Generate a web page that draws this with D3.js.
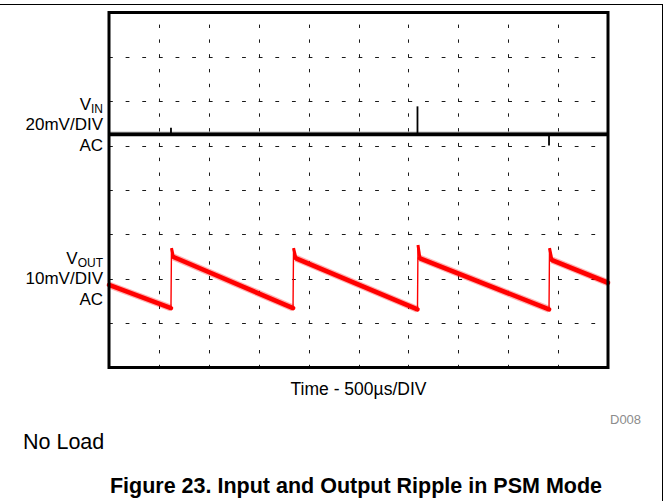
<!DOCTYPE html>
<html>
<head>
<meta charset="utf-8">
<script src="https://cdn.jsdelivr.net/npm/d3@7/dist/d3.min.js"></script>
<style>
  html, body { margin: 0; padding: 0; background: #fff; }
  svg { display: block; font-family: "Liberation Sans", Arial, sans-serif; }
</style>
</head>
<body>
<svg id="chart" width="669" height="501"></svg>
<script>
// Time base: 10 divisions of 500 µs
const timeDomain = [0, 5000];
const timeGrid = d3.range(500, 5000, 500);
// Vertical: 8 divisions, expressed in divisions about screen centre
const divDomain = [-4, 4];
const divGrid = d3.range(-3, 4, 1);

// Input channel (20 mV/div, AC coupled) — flat with switching spikes
const vinScale = 20;          // mV per division
const vinOffset = 1.255;      // channel reference, divisions
const vinT = [0, 5000];
const vinMv = [0, 0];
const vinSpikeT = [621, 3091, 4409];
const vinSpikeMv = [3.0, 12.6, -5.0];

// Output channel (10 mV/div, AC coupled) — PSM sawtooth ripple
const voutScale = 10;         // mV per division
const voutOffset = -2;        // channel reference, divisions
const voutT  = [0, 621, 626, 646, 1844, 1849, 1874, 3091, 3096, 3116, 4409, 4414, 4439, 5000];
const voutMv = [-1.4, -6.6, 6.9, 4.9, -6.6, 6.9, 4.6, -6.9, 7.6, 4.6, -6.9, 6.9, 4.2, -0.9];

(function draw() {
  const svg = d3.select("#chart");
  const pLeft = 109, pRight = 608, pTop = 12.5, pBottom = 367.5;

  const x = d3.scaleLinear().domain(timeDomain).range([pLeft, pRight]);
  const y = d3.scaleLinear().domain(divDomain).range([pBottom, pTop]);

  // Page border
  svg.append("rect")
    .attr("x", -2).attr("y", 4.5).attr("width", 664.5).attr("height", 520)
    .attr("fill", "none").attr("stroke", "#000").attr("stroke-width", 1);

  // Graticule
  const hDiv = (pRight - pLeft) / 10, vDiv = (pBottom - pTop) / 8;
  const grid = svg.append("g").attr("stroke", "#1a1a1a").attr("stroke-width", 1);
  grid.selectAll("line.v").data(timeGrid).join("line")
    .attr("class", "v")
    .attr("x1", d => Math.round(x(d)) + 0.5).attr("x2", d => Math.round(x(d)) + 0.5)
    .attr("y1", pTop).attr("y2", pBottom)
    .attr("stroke-dasharray", `3.4 ${vDiv / 3 - 3.4}`)
    .attr("stroke-dashoffset", 2.7);
  grid.selectAll("line.h").data(divGrid).join("line")
    .attr("class", "h")
    .attr("y1", d => Math.round(y(d)) + 0.5).attr("y2", d => Math.round(y(d)) + 0.5)
    .attr("x1", pLeft).attr("x2", pRight)
    .attr("stroke-dasharray", `3.8 ${hDiv / 3 - 3.8}`);

  // Traces
  const vinY = mv => y(vinOffset + mv / vinScale);
  const voutY = mv => y(voutOffset + mv / voutScale);

  const vinLine = d3.line().x(d => x(d[0])).y(d => vinY(d[1]));
  const vinPts = d3.zip(vinT, vinMv);
  svg.append("path")
    .datum(vinPts)
    .attr("d", vinLine)
    .attr("fill", "none").attr("stroke", "#000").attr("stroke-opacity", 0.25).attr("stroke-width", 5.5);
  svg.append("path")
    .datum(vinPts)
    .attr("d", vinLine)
    .attr("fill", "none").attr("stroke", "#000").attr("stroke-width", 3.4);
  svg.selectAll("line.spike").data(d3.zip(vinSpikeT, vinSpikeMv)).join("line")
    .attr("class", "spike")
    .attr("x1", d => x(d[0])).attr("x2", d => x(d[0]))
    .attr("y1", vinY(0)).attr("y2", d => vinY(d[1]))
    .attr("stroke", "#000").attr("stroke-width", 1.8);

  const voutPts = d3.zip(voutT, voutMv);
  const voutLine = d3.line().x(d => x(d[0])).y(d => voutY(d[1]));
  // slow discharge ramps carry the noise band
  const ramps = [];
  for (let i = 0; i < voutPts.length - 1; i++) {
    if (voutPts[i + 1][0] - voutPts[i][0] > 100) ramps.push([voutPts[i], voutPts[i + 1]]);
  }
  svg.selectAll("path.halo").data(ramps).join("path")
    .attr("class", "halo")
    .attr("d", voutLine)
    .attr("fill", "none").attr("stroke", "#ff0000").attr("stroke-opacity", 0.3)
    .attr("stroke-width", 7);
  // fast edges and overshoot, thin
  svg.append("path")
    .datum(voutPts)
    .attr("d", voutLine)
    .attr("fill", "none").attr("stroke", "#ff0000").attr("stroke-width", 1.4);
  svg.selectAll("path.ramp").data(ramps).join("path")
    .attr("class", "ramp")
    .attr("d", voutLine)
    .attr("fill", "none").attr("stroke", "#ff0000").attr("stroke-width", 4.6)
    .attr("stroke-linecap", "round");
  // overshoot taper
  svg.selectAll("path.taper").data(d3.range(1, voutPts.length - 1)
      .filter(i => voutPts[i][0] - voutPts[i - 1][0] < 10)
      .map(i => [voutPts[i], voutPts[i + 1]])).join("path")
    .attr("class", "taper")
    .attr("d", voutLine)
    .attr("fill", "none").attr("stroke", "#ff0000").attr("stroke-width", 3);

  // Frame
  svg.append("rect")
    .attr("x", pLeft).attr("y", pTop).attr("width", pRight - pLeft).attr("height", pBottom - pTop)
    .attr("fill", "none").attr("stroke", "#000").attr("stroke-width", 3);

  // Channel labels
  function channelLabel(yBase, name, sub, scaleText) {
    const g = svg.append("g").attr("font-size", 17).attr("fill", "#000").attr("text-anchor", "end");
    const t = g.append("text").attr("x", 103).attr("y", yBase);
    t.append("tspan").text(name);
    t.append("tspan").attr("font-size", 12).attr("dy", 3.5).text(sub);
    g.append("text").attr("x", 103).attr("y", yBase + 20).text(scaleText);
    g.append("text").attr("x", 103).attr("y", yBase + 41.5).text("AC");
  }
  channelLabel(109.5, "V", "IN", "20mV/DIV");
  channelLabel(263.5, "V", "OUT", "10mV/DIV");

  // Time axis caption
  svg.append("text")
    .attr("x", (pLeft + pRight) / 2).attr("y", 395)
    .attr("text-anchor", "middle").attr("font-size", 17.5)
    .text("Time - 500µs/DIV");

  svg.append("text")
    .attr("x", 610).attr("y", 424)
    .attr("font-size", 13).attr("fill", "#8c8c8c")
    .text("D008");

  svg.append("text")
    .attr("x", 23).attr("y", 449)
    .attr("font-size", 21.5)
    .text("No Load");

  svg.append("text")
    .attr("x", 356).attr("y", 493)
    .attr("text-anchor", "middle").attr("font-size", 21.5).attr("font-weight", "bold")
    .text("Figure 23. Input and Output Ripple in PSM Mode");
})();
</script>
</body>
</html>
